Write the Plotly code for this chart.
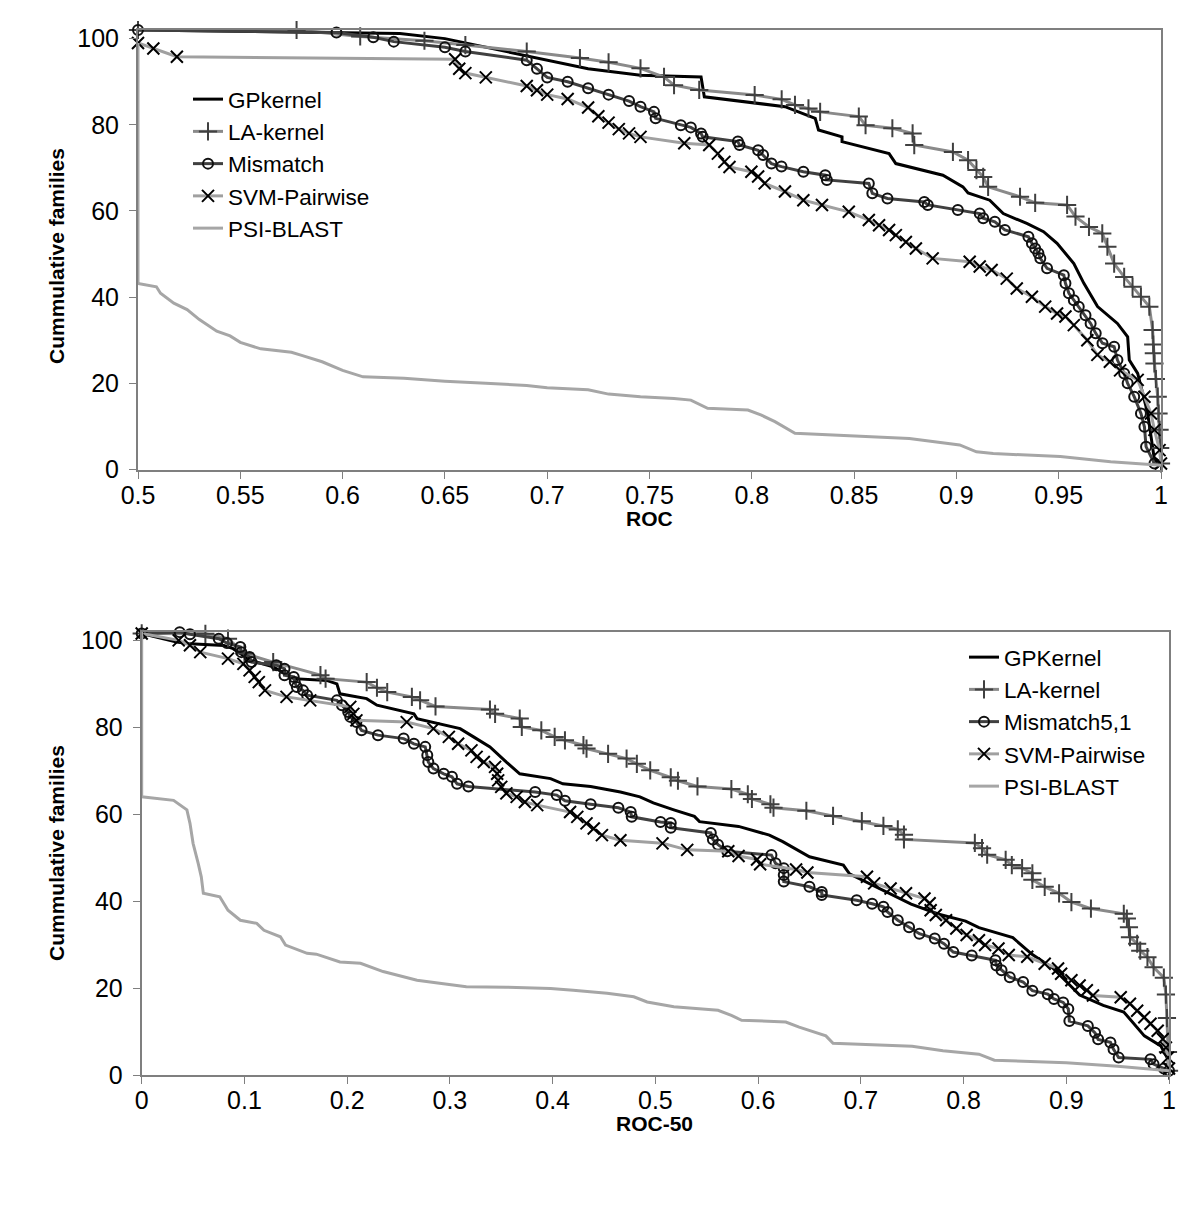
import plotly.graph_objects as go

# ---------------- TOP PANEL (ROC) ----------------
top_gp = [(0.5, 102), (0.6, 101.5), (0.628, 101.2), (0.65, 100), (0.66, 99), (0.68, 97), (0.70, 95),
          (0.72, 93), (0.7456, 91.5), (0.7752, 91.1), (0.7768, 86.5), (0.8162, 84.2), (0.831, 81.5),
          (0.8326, 78.8), (0.8441, 77.2), (0.8441, 76.1), (0.8671, 73.3), (0.8704, 71), (0.8934, 68.3),
          (0.9032, 65.6), (0.9057, 64.2), (0.9163, 62.5), (0.9229, 59.4), (0.9344, 57.1), (0.9426, 55.2),
          (0.9492, 52.5), (0.9574, 47.8), (0.9623, 43.2), (0.969, 37.8), (0.9787, 33.9), (0.9837, 30.8),
          (0.9845, 25.4), (0.9886, 22.3), (0.9935, 13), (0.9968, 2.2), (1.0, 1)]

top_la = [(0.5, 102), (0.5775, 102), (0.6086, 100.5), (0.64, 99.5), (0.66, 98.5), (0.69, 97), (0.716, 95.5),
          (0.73, 94.5), (0.7456, 93.1), (0.7571, 91.1), (0.762, 89.2), (0.7743, 88.1), (0.8014, 86.9),
          (0.8146, 85.9), (0.8211, 84.6), (0.8277, 83.8), (0.8334, 83), (0.8523, 81.9), (0.8556, 79.9),
          (0.8687, 79.2), (0.8786, 78), (0.8794, 75.3), (0.8983, 73.7), (0.9057, 71.8), (0.9098, 69.5),
          (0.9131, 67.9), (0.9155, 65.6), (0.9311, 63.3), (0.9385, 61.9), (0.9541, 61.4), (0.9582, 58.7),
          (0.9648, 56.3), (0.9713, 54.8), (0.9738, 51.7), (0.9771, 47.8), (0.982, 44.7), (0.9861, 42.4),
          (0.9902, 40.1), (0.9943, 37.8), (0.9959, 32.4), (0.9962, 29), (0.9965, 27), (0.9968, 24.6),
          (0.9975, 21), (0.9984, 16.9), (0.9988, 13), (0.9993, 9.2), (0.9996, 5), (1.0, 1.4)]

top_mismatch = [(0.5, 102), (0.597, 101.4), (0.615, 100.3), (0.625, 99.3), (0.65, 98), (0.66, 97),
                (0.69, 95), (0.695, 93), (0.70, 91), (0.71, 90), (0.72, 88.5), (0.73, 87), (0.74, 85.5),
                (0.7456, 84.2), (0.7522, 83), (0.753, 81.5), (0.7653, 79.9), (0.7702, 79.4), (0.7752, 78),
                (0.776, 77.2), (0.7932, 76.1), (0.794, 75.3), (0.8031, 74.1), (0.8055, 73), (0.8096, 71),
                (0.8145, 70.3), (0.8252, 69.1), (0.8359, 68.3), (0.8367, 67.2), (0.8572, 66.4), (0.8589, 64.1),
                (0.8663, 62.9), (0.8843, 62.1), (0.886, 61.4), (0.9007, 60.2), (0.9114, 59.4), (0.9131, 58.3),
                (0.9188, 57.5), (0.9237, 55.6), (0.9352, 54), (0.9369, 52.5), (0.9385, 51.3), (0.9401, 50.2),
                (0.941, 49), (0.9443, 46.7), (0.9525, 45.1), (0.9533, 43.2), (0.955, 40.9), (0.9574, 39.3),
                (0.9598, 37.8), (0.9631, 35.8), (0.9656, 33.9), (0.9681, 31.6), (0.9714, 29.3), (0.9771, 28.5),
                (0.9787, 25.4), (0.982, 22.3), (0.9837, 20), (0.9869, 16.9), (0.9902, 13), (0.9919, 9.9),
                (0.9927, 5.3), (0.9968, 1.4)]

top_svm = [(0.5, 99), (0.5075, 97.7), (0.519, 95.8), (0.655, 95.2), (0.657, 93), (0.66, 92),
           (0.67, 91), (0.69, 89), (0.695, 88), (0.70, 87), (0.71, 86), (0.72, 84), (0.725, 82), (0.73, 80.5),
           (0.735, 79), (0.74, 78), (0.7456, 77.2), (0.767, 75.7), (0.7792, 75.3), (0.7834, 73.3),
           (0.7866, 71.4), (0.7891, 70.2), (0.7998, 69.1), (0.8031, 68), (0.8063, 66.4), (0.8162, 64.5),
           (0.8252, 62.5), (0.8343, 61.4), (0.8474, 59.8), (0.8572, 57.9), (0.8622, 56.7), (0.8671, 55.6),
           (0.8704, 54.4), (0.8753, 52.8), (0.8802, 51.3), (0.8884, 49), (0.9065, 48.2), (0.9114, 47.1),
           (0.9172, 46.3), (0.9246, 44.3), (0.9295, 42), (0.9369, 40.1), (0.9434, 37.8), (0.9492, 36.2),
           (0.9533, 35.5), (0.9574, 33.5), (0.964, 30), (0.9689, 26.6), (0.975, 25), (0.98, 23),
           (0.9886, 20.8), (0.9919, 16.9), (0.9951, 13), (0.9968, 9.2), (0.9993, 4.5), (1.0, 1.4)]

top_psi = [(0.5, 99), (0.5, 43.2), (0.509, 42.4), (0.511, 40.9), (0.5175, 38.6), (0.524, 37.1), (0.530, 34.8),
           (0.5385, 32.1), (0.545, 31), (0.55, 29.5), (0.56, 28), (0.575, 27.2), (0.58, 26.5), (0.59, 25),
           (0.6, 23), (0.61, 21.5), (0.63, 21.2), (0.65, 20.5), (0.67, 20), (0.69, 19.5), (0.70, 19),
           (0.72, 18.5), (0.73, 17.5), (0.7456, 16.9), (0.762, 16.5), (0.7702, 16.1), (0.7784, 14.2),
           (0.7981, 13.8), (0.8047, 12.6), (0.8113, 11.1), (0.8211, 8.4), (0.8375, 8), (0.877, 7.2),
           (0.9016, 5.7), (0.9098, 4.1), (0.918, 3.7), (0.9508, 3), (0.9754, 1.8), (1.0, 1)]

# ---------------- BOTTOM PANEL (ROC-50) ----------------
bot_gp = [(0, 101.6), (0.034, 99.6), (0.047, 99.2), (0.080, 98.8), (0.089, 98.1), (0.106, 95.4), (0.128, 93.9),
          (0.148, 91.2), (0.180, 90.8), (0.19, 90), (0.193, 87.7), (0.219, 86.6), (0.229, 85.1), (0.265, 83.1),
          (0.268, 82), (0.310, 79.7), (0.323, 77.8), (0.339, 75.5), (0.355, 72), (0.368, 69.3), (0.398, 68.2),
          (0.41, 67), (0.437, 66.4), (0.466, 65.1), (0.485, 64), (0.498, 62.6), (0.518, 61), (0.538, 59.5),
          (0.543, 58.3), (0.581, 57.2), (0.611, 55.2), (0.624, 53.7), (0.65, 50.2), (0.683, 48.3),
          (0.689, 46.3), (0.716, 43.2), (0.749, 39.3), (0.776, 37), (0.802, 35.4), (0.815, 33.9),
          (0.848, 31.6), (0.867, 27.7), (0.887, 24.6), (0.900, 21.5), (0.913, 18.4), (0.936, 16),
          (0.956, 14.5), (0.976, 9), (0.992, 6.7), (0.999, 3.6), (1.0, 1)]

bot_la = [(0, 101.6), (0.062, 101.5), (0.084, 100.4), (0.10, 97), (0.128, 95), (0.174, 92), (0.179, 91.2),
          (0.219, 90.4), (0.229, 89.1), (0.239, 88.1), (0.263, 87), (0.271, 86.2), (0.286, 84.8),
          (0.339, 84.1), (0.344, 83.1), (0.368, 82), (0.37, 80.1), (0.389, 79.3), (0.402, 77.8),
          (0.412, 77), (0.430, 75.9), (0.433, 75.1), (0.454, 73.9), (0.472, 72.8), (0.482, 71.6),
          (0.495, 70.1), (0.515, 68.5), (0.522, 67.7), (0.541, 66.4), (0.574, 65.8), (0.59, 64.6),
          (0.594, 63.5), (0.612, 62.3), (0.615, 61.5), (0.647, 60.8), (0.673, 59.6), (0.701, 58.4),
          (0.722, 57.3), (0.736, 56.5), (0.742, 55.3), (0.742, 54.2), (0.811, 53.4), (0.818, 52.2),
          (0.823, 50.7), (0.841, 49.5), (0.847, 48.3), (0.857, 47.6), (0.867, 46.4), (0.867, 44.9),
          (0.879, 43.3), (0.893, 41.8), (0.905, 39.8), (0.924, 38.3), (0.956, 37.1), (0.959, 36),
          (0.961, 34), (0.962, 31.7), (0.969, 30.2), (0.972, 28.6), (0.979, 27.1), (0.985, 24.8),
          (0.995, 22.4), (0.997, 18.5), (0.998, 13.1), (0.999, 5.3), (1.0, 1)]

bot_mismatch = [(0, 101.6), (0.037, 101.9), (0.047, 101.4), (0.075, 100.4), (0.083, 99.4), (0.096, 98.5),
                (0.097, 97.3), (0.105, 96.2), (0.107, 95), (0.131, 94.3), (0.139, 93.5), (0.139, 92),
                (0.148, 91.6), (0.149, 90.4), (0.151, 89.3), (0.157, 88.5), (0.161, 87.4), (0.190, 86.2),
                (0.195, 85.1), (0.201, 83.5), (0.203, 82.4), (0.209, 81.2), (0.214, 79.3), (0.230, 78.2),
                (0.255, 77.4), (0.265, 76.2), (0.276, 75.5), (0.278, 73.6), (0.279, 72), (0.284, 70.5),
                (0.294, 69.3), (0.302, 68.6), (0.307, 67), (0.318, 66.4), (0.383, 65.1), (0.404, 64.4),
                (0.412, 63.1), (0.437, 62.3), (0.464, 61.5), (0.476, 60.5), (0.477, 59.4), (0.505, 58.2),
                (0.515, 58), (0.515, 56.9), (0.554, 55.7), (0.556, 54.2), (0.561, 53), (0.570, 51.5),
                (0.613, 50.6), (0.617, 48.7), (0.625, 47.6), (0.625, 46), (0.625, 44.5), (0.650, 43.3),
                (0.662, 42.1), (0.662, 41.4), (0.696, 40.2), (0.711, 39.4), (0.722, 38.7), (0.726, 37.5),
                (0.736, 35.6), (0.747, 34), (0.757, 32.5), (0.772, 31.4), (0.781, 30.2), (0.790, 28.3),
                (0.808, 27.5), (0.831, 26.4), (0.832, 25.2), (0.837, 24.1), (0.845, 22.5), (0.858, 21.4),
                (0.867, 19.4), (0.882, 18.6), (0.888, 17.5), (0.897, 16.7), (0.902, 15.2), (0.903, 12.4),
                (0.921, 11.3), (0.928, 9.7), (0.931, 8.2), (0.943, 7.5), (0.946, 5.9), (0.951, 4),
                (0.982, 3.6), (0.985, 2.5), (0.995, 1.5), (1.0, 1)]

bot_svm = [(0, 101.6), (0.036, 100), (0.047, 98.9), (0.057, 97.3), (0.084, 95.8), (0.099, 94.6), (0.105, 93.1),
           (0.11, 91.6), (0.114, 90.4), (0.12, 88.5), (0.141, 87), (0.164, 86.2), (0.203, 84.7), (0.206, 83.1),
           (0.209, 81.6), (0.258, 81.2), (0.284, 79.7), (0.299, 77.8), (0.308, 76.2), (0.321, 74.7),
           (0.326, 73.2), (0.333, 72), (0.344, 70.9), (0.346, 69.3), (0.347, 67.8), (0.35, 66.3),
           (0.355, 64.8), (0.365, 64), (0.373, 62.8), (0.385, 62.1), (0.417, 60.5), (0.424, 59.4),
           (0.433, 57.9), (0.44, 56.7), (0.448, 55.2), (0.466, 54), (0.507, 53.3), (0.531, 51.8),
           (0.571, 51.5), (0.581, 50.4), (0.599, 49.6), (0.602, 48.5), (0.637, 47.3), (0.648, 46.6),
           (0.706, 45.6), (0.713, 44.1), (0.729, 42.9), (0.744, 41.8), (0.762, 40.6), (0.767, 39.5),
           (0.768, 37.9), (0.773, 36.8), (0.783, 35.6), (0.793, 33.7), (0.803, 32.2), (0.815, 31),
           (0.821, 29.9), (0.834, 29.1), (0.844, 27.6), (0.862, 27.2), (0.879, 25.6), (0.892, 24.5),
           (0.895, 23.3), (0.905, 21.8), (0.913, 20.6), (0.92, 19.5), (0.926, 18.3), (0.953, 17.9),
           (0.962, 16.4), (0.969, 14.8), (0.976, 13.3), (0.982, 11.8), (0.989, 10.2), (0.994, 8.3),
           (0.997, 6.3), (0.999, 4), (1.0, 1.5)]

bot_psi = [(0, 102), (0, 64), (0.031, 63.2), (0.044, 61), (0.047, 57.9), (0.050, 53.3), (0.055, 48.7),
           (0.058, 45.6), (0.060, 41.8), (0.076, 41), (0.084, 37.9), (0.096, 35.6), (0.112, 34.9),
           (0.119, 33.3), (0.135, 31.8), (0.140, 29.9), (0.161, 28), (0.170, 27.8), (0.193, 26),
           (0.213, 25.7), (0.235, 23.8), (0.268, 21.8), (0.290, 21.1), (0.316, 20.3), (0.355, 20.2),
           (0.398, 19.9), (0.42, 19.5), (0.453, 18.8), (0.479, 18), (0.492, 16.8), (0.518, 15.7),
           (0.561, 14.9), (0.574, 13.7), (0.584, 12.6), (0.627, 12.2), (0.640, 11), (0.666, 9),
           (0.673, 7.3), (0.75, 6.6), (0.78, 5.6), (0.815, 4.8), (0.83, 3.4), (0.9, 2.8), (0.95, 2), (1.0, 1)]

top_names = ["GPkernel", "LA-kernel", "Mismatch", "SVM-Pairwise", "PSI-BLAST"]
bot_names = ["GPKernel", "LA-kernel", "Mismatch5,1", "SVM-Pairwise", "PSI-BLAST"]

y_ticks = [0, 20, 40, 60, 80, 100]
top_x_ticks = [0.5, 0.55, 0.6, 0.65, 0.7, 0.75, 0.8, 0.85, 0.9, 0.95, 1]
bot_x_ticks = [0, 0.1, 0.2, 0.3, 0.4, 0.5, 0.6, 0.7, 0.8, 0.9, 1]

FONT = "Arial, Liberation Sans, sans-serif"

styles = [
    dict(mode="lines", line=dict(color="#000000", width=3)),
    dict(mode="lines+markers", line=dict(color="#8a8a8a", width=3),
         marker=dict(symbol="cross-thin", size=13, line=dict(color="#404040", width=2))),
    dict(mode="lines+markers", line=dict(color="#404040", width=3),
         marker=dict(symbol="circle-open", size=10, color="#111111", line=dict(width=2))),
    dict(mode="lines+markers", line=dict(color="#a0a0a0", width=3),
         marker=dict(symbol="x-thin", size=12, line=dict(color="#000000", width=2))),
    dict(mode="lines", line=dict(color="#a6a6a6", width=3)),
]

fig = go.Figure()

top_data = [top_gp, top_la, top_mismatch, top_svm, top_psi]
bot_data = [bot_gp, bot_la, bot_mismatch, bot_svm, bot_psi]

for i in range(5):
    xs = [p[0] for p in top_data[i]]
    ys = [p[1] for p in top_data[i]]
    fig.add_trace(go.Scatter(x=xs, y=ys, name=top_names[i], xaxis="x", yaxis="y",
                             legend="legend", legendrank=i + 1, cliponaxis=False, **styles[i]))
for i in range(5):
    xs = [p[0] for p in bot_data[i]]
    ys = [p[1] for p in bot_data[i]]
    fig.add_trace(go.Scatter(x=xs, y=ys, name=bot_names[i], xaxis="x2", yaxis="y2",
                             legend="legend2", legendrank=i + 1, cliponaxis=False, **styles[i]))

axis_common = dict(showgrid=False, zeroline=False, showline=True, linecolor="#7f7f7f", linewidth=2,
                   mirror=True, ticks="outside", ticklen=7, tickwidth=1, tickcolor="#7f7f7f",
                   automargin=False, tickfont=dict(family=FONT, size=25, color="#000000"))

W, H = 1200, 1207
fig.update_layout(
    template="none",
    width=W, height=H, margin=dict(l=0, r=0, t=0, b=0, pad=0, autoexpand=False),
    paper_bgcolor="white", plot_bgcolor="white",
    font=dict(family=FONT, size=25, color="#000000"),
    xaxis=dict(domain=[138 / W, 1161 / W], range=[0.5, 1], tickvals=top_x_ticks,
               ticktext=[f"{v:g}" for v in top_x_ticks], anchor="y", ticklabelstandoff=-5, **axis_common),
    yaxis=dict(domain=[1 - 469.5 / H, 1 - 30 / H], range=[0, 102], tickvals=y_ticks, anchor="x",
               ticklabelstandoff=5, **axis_common),
    xaxis2=dict(domain=[141.7 / W, 1169 / W], range=[0, 1], tickvals=bot_x_ticks,
                ticktext=[f"{v:g}" for v in bot_x_ticks], anchor="y2", ticklabelstandoff=-5, **axis_common),
    yaxis2=dict(domain=[1 - 1075 / H, 1 - 631.7 / H], range=[0, 102], tickvals=y_ticks, anchor="x2",
                ticklabelstandoff=5, **axis_common),
    legend=dict(x=188 / W, y=1 - 78 / H, xanchor="left", yanchor="top", bgcolor="rgba(0,0,0,0)",
                borderwidth=0, font=dict(family=FONT, size=22.5, color="#000000"), tracegroupgap=0),
    legend2=dict(x=964 / W, y=1 - 636 / H, xanchor="left", yanchor="top", bgcolor="rgba(0,0,0,0)",
                 borderwidth=0, font=dict(family=FONT, size=22.5, color="#000000"), tracegroupgap=0),
    showlegend=True,
)

title_font = dict(family=FONT, size=21, color="#000000")
ann = dict(xref="paper", yref="paper", showarrow=False, xanchor="center", yanchor="middle", font=title_font)
fig.add_annotation(text="<b>ROC</b>", x=649 / W, y=1 - 518 / H, **ann)
fig.add_annotation(text="<b>ROC-50</b>", x=655 / W, y=1 - 1123 / H, **ann)
fig.add_annotation(text="<b>Cummulative families</b>", x=56 / W, y=1 - 256 / H, textangle=-90, **ann)
fig.add_annotation(text="<b>Cummulative families</b>", x=56 / W, y=1 - 853 / H, textangle=-90, **ann)

fig.write_html("out.html", config={"displayModeBar": False},
               post_script="document.body.style.margin='0px';document.body.style.padding='0px';")
